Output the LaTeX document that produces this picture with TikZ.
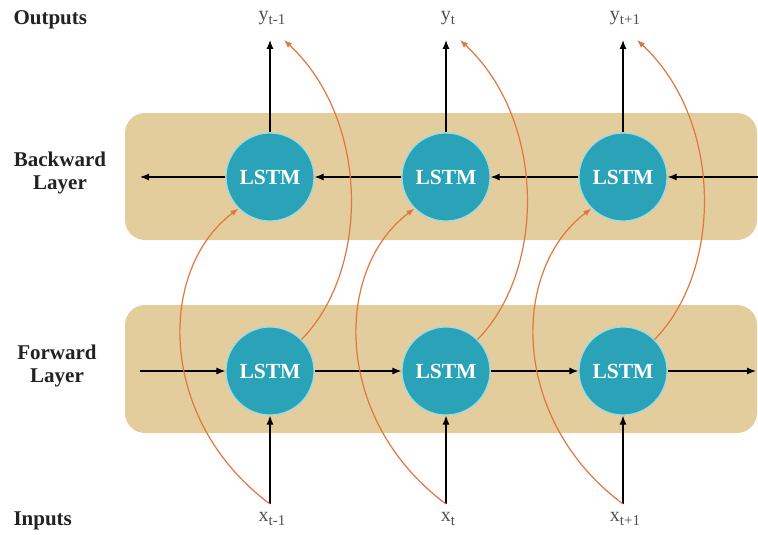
\documentclass[tikz,border=0pt]{standalone}
\usepackage{fontspec}
\setmainfont{Liberation Serif}
\usetikzlibrary{arrows.meta}
\definecolor{band}{HTML}{E3CD9D}
\definecolor{teal}{HTML}{2AA3B8}
\definecolor{rim}{HTML}{9ADCE3}
\definecolor{orng}{HTML}{E07640}
\definecolor{lbl}{HTML}{222222}
\definecolor{idx}{HTML}{505050}
\newcommand{\idxlab}[2]{#1\raisebox{-0.45ex}{\fontsize{15pt}{15pt}\selectfont #2}}
\tikzset{
  layerband/.style={fill=band, draw=none, rounded corners=20pt},
  lstm/.style={circle, minimum size=88pt, inner sep=0pt, fill=teal, draw=rim, line width=1.2pt,
    text=white, font=\fontsize{21.5pt}{21.5pt}\selectfont\bfseries},
  sidelabel/.style={text=lbl, font=\fontsize{21pt}{23pt}\selectfont\bfseries, align=center},
  iolabel/.style={text=idx, font=\fontsize{20pt}{20pt}\selectfont},
  blk/.style={draw=black, line width=1.2pt, -{Latex[length=9pt,width=7pt]}},
  orc/.style={draw=orng, line width=1.2pt, -{Latex[length=8pt,width=6pt]}}
}
\begin{document}
\begin{tikzpicture}[x=1pt,y=-1pt]
\useasboundingbox (0,0) rectangle (758,535);
% bands
\fill[layerband] (125,113) rectangle (757,240);
\fill[layerband] (125,305) rectangle (757,433);
% side labels
\node[sidelabel, anchor=west] (outl) at (10,20) {Outputs};
\node[sidelabel] (bwl) at (60,173) {Backward\\Layer};
\node[sidelabel] (fwl) at (57,366) {Forward\\Layer};
\node[sidelabel, anchor=west] (inl) at (10,521) {Inputs};
% LSTM nodes
\foreach \i/\x in {1/270,2/446,3/623}{
  \node[lstm] (b\i) at (\x,177) {LSTM};
  \node[lstm] (f\i) at (\x,371) {LSTM};
  \coordinate (yt\i) at (\x,40);
  \coordinate (xs\i) at (\x,504);
}
% output / input labels
\node[iolabel] (y1) at (272,18) {\idxlab{y}{t-1}};
\node[iolabel] (y2) at (448,18) {\idxlab{y}{t}};
\node[iolabel] (y3) at (625,18) {\idxlab{y}{t+1}};
\node[iolabel] (x1) at (272,519) {\idxlab{x}{t-1}};
\node[iolabel] (x2) at (448,519) {\idxlab{x}{t}};
\node[iolabel] (x3) at (625,519) {\idxlab{x}{t+1}};
% free ends
\coordinate (bl) at (140,177);
\coordinate (br) at (758,177);
\coordinate (fl) at (140,371);
\coordinate (fr) at (756,371);
% backward chain
\draw[blk] (br) -- (b3.east);
\draw[blk] (b3.west) -- (b2.east);
\draw[blk] (b2.west) -- (b1.east);
\draw[blk] (b1.west) -- (bl);
% forward chain
\draw[blk] (fl) -- (f1.west);
\draw[blk] (f1.east) -- (f2.west);
\draw[blk] (f2.east) -- (f3.west);
\draw[blk] (f3.east) -- (fr);
% outputs and inputs
\foreach \i in {1,2,3}{
  \draw[blk] (b\i.north) -- (yt\i);
  \draw[blk] (xs\i) -- (f\i.south);
}
% orange curves
\foreach \i/\x in {1/270,2/446,3/623}{
  \draw[orc] (xs\i) .. controls ([xshift=-113]xs\i |- 0,420) and ([xshift=-113]xs\i |- 0,270) .. (b\i.225);
  \draw[orc] (f\i.45) .. controls ([xshift=100]xs\i |- 0,270) and ([xshift=100]xs\i |- 0,120) .. ([xshift=14]yt\i);
}
\end{tikzpicture}
\end{document}
